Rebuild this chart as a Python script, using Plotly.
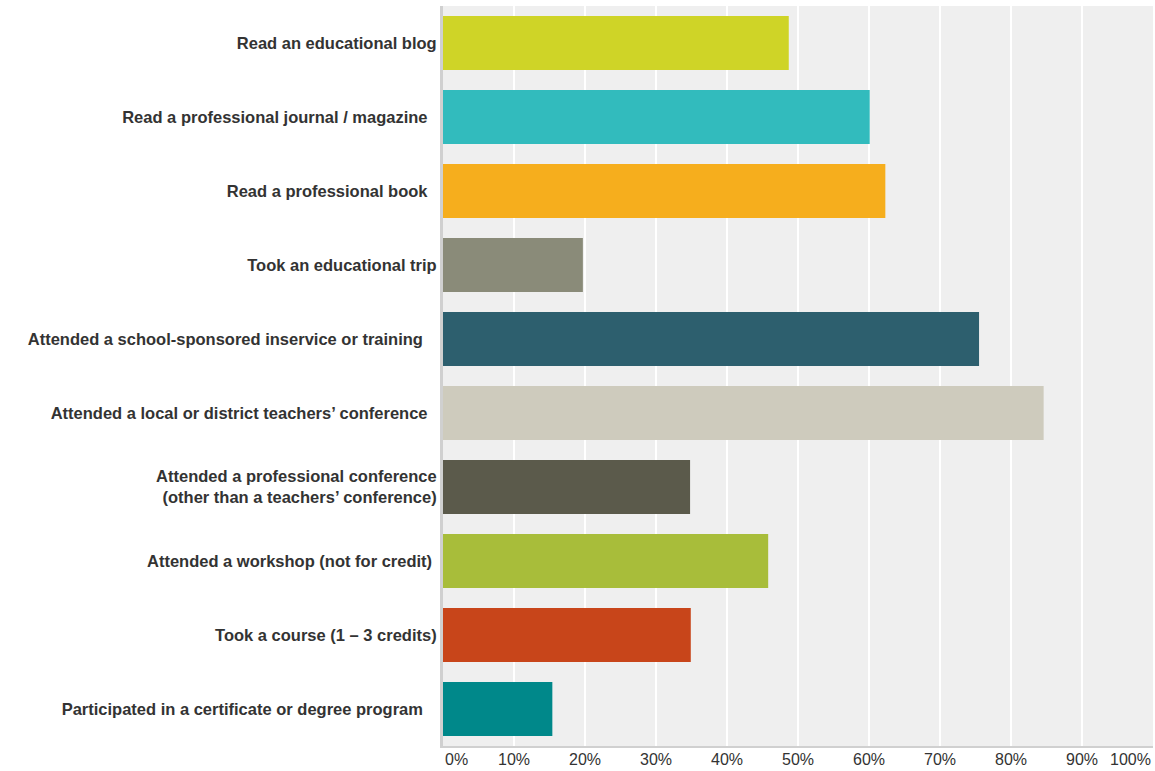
import plotly.graph_objects as go

NB = "\u00a0"
categories = [
    "Read an educational blog",
    "Read a professional journal / magazine" + NB + NB,
    "Read a professional book" + NB + NB,
    "Took an educational trip",
    "Attended a school-sponsored inservice or training" + NB + NB + NB,
    "Attended a local or district teachers’ conference" + NB + NB,
    "Attended a professional conference<br>(other than a teachers’ conference)",
    "Attended a workshop (not for credit)" + NB,
    "Took a course (1 – 3 credits)",
    "Participated in a certificate or degree program" + NB + NB + NB,
]
values = [48.7, 60.1, 62.3, 19.7, 75.5, 84.6, 34.8, 45.8, 34.9, 15.4]
colors = ["#CFD427", "#32BBBD", "#F6AE1D", "#8A8B79", "#2D5F6E",
          "#CECBBD", "#5B5A4B", "#A8BD3A", "#C8451A", "#00888A"]
tick_vals = [0, 10, 20, 30, 40, 50, 60, 70, 80, 90, 100]
tick_text = ["0%", "10%", "20%", "30%", "40%", "50%", "60%", "70%", "80%", "90%", "100%"]

FONT = "Liberation Sans, Arial, sans-serif"

fig = go.Figure(go.Bar(
    x=values, y=categories, orientation="h",
    marker=dict(color=colors, line=dict(width=0)),
    hoverinfo="x+y",
))

annotations = []
for v, t in zip(tick_vals, tick_text):
    anchor = "center"
    if v == 0:
        anchor = "left"
    elif v == 100:
        anchor = "right"
    annotations.append(dict(
        x=v, xref="x", y=0, yref="paper", text=t, showarrow=False,
        xanchor=anchor, yanchor="top", yshift=-3,
        font=dict(family=FONT, size=16, color="#333333"),
    ))

fig.update_layout(
    width=1155, height=771,
    margin=dict(l=443, r=2, t=6, b=25, pad=0),
    paper_bgcolor="white",
    plot_bgcolor="#EFEFEF",
    bargap=0.27,
    showlegend=False,
    annotations=annotations,
    xaxis=dict(
        range=[0, 100], tickvals=tick_vals, showticklabels=False,
        showgrid=True, gridcolor="white", gridwidth=2,
        zeroline=False, showline=True, linecolor="#D0D0D0", linewidth=2,
        fixedrange=True,
    ),
    yaxis=dict(
        autorange="reversed", showgrid=False, zeroline=False,
        showline=True, linecolor="#D0D0D0", linewidth=3,
        ticks="", ticklen=0, ticklabelstandoff=0,
        tickfont=dict(family=FONT, size=16.5, color="#333333", weight="bold"),
        fixedrange=True,
    ),
)

# remove the default 8px page margin so the figure sits at the window's corner
fig.write_html(
    "out.html",
    config={"displayModeBar": False},
    post_script="document.body.style.margin='0';document.body.style.overflow='hidden';",
)
